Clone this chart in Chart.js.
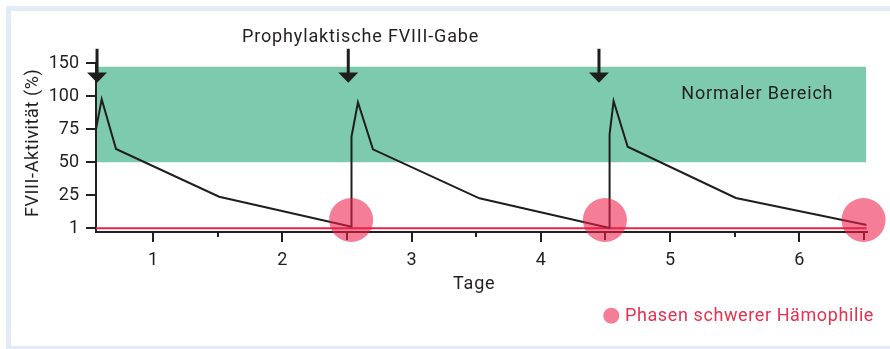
<!DOCTYPE html>
<html>
<head>
<meta charset="utf-8">
<script src="https://cdn.jsdelivr.net/npm/chart.js@4.4.1/dist/chart.umd.min.js"></script>
<style>
  html, body { margin: 0; padding: 0; background: #ffffff; overflow: hidden; }
  #wrap { position: relative; width: 890px; height: 349px; overflow: hidden; }
  #frame { position: absolute; left: 6px; top: 6px; width: 920px; height: 345px; box-sizing: border-box; border: 5px solid #e3ebf7; }
  #c { position: absolute; left: 0; top: 0; }
</style>
</head>
<body>
<div id="wrap">
  <div id="frame"></div>
  <canvas id="c" width="890" height="349"></canvas>
</div>
<script>
// ---- data (days on x, FVIII activity on y) ----
const xTickDays = [1, 2, 3, 4, 5, 6];
const xTickLabels = ['1', '2', '3', '4', '5', '6'];
const xMinorDays = [1.5, 2.5, 3.5, 4.5, 5.5, 6.5];
const xMinorIsDose = [false, true, false, true, false, true];
const yTickValues = [0, 25, 50, 75, 100, 125];
const yTickLabels = ['1', '25', '50', '75', '100', '150'];

const activityDays = [0.558, 0.602, 0.713, 1.511, 2.535, 2.535, 2.585, 2.701, 3.525, 4.532, 4.532, 4.563, 4.672, 5.509, 6.522];
const activityValues = [75, 97.7, 60.1, 23.9, 1.2, 69.4, 95.5, 59.8, 22.7, 0.2, 71.2, 96.4, 61.8, 23.0, 2.5];

const severeDays = [2.532, 4.496, 6.497];
const severeValues = [6.3, 6.3, 6.3];

const doseArrowDays = [0.566, 2.51, 4.45];

const normalRangeDays = [0.566, 6.52];
const normalRangeLow = 50;
const normalRangeHigh = 122.4;

const thresholdDays = [0.558, 6.52];
const thresholdValue = 0;

const X_MIN = 0.558, X_MAX = 6.52, Y_MIN = -2.8, Y_MAX = 125;

const FONT = 'Roboto, "Liberation Sans", sans-serif';
const TEXT = '#231f20';

function spaced(ctx, text, x, y, spacing) {
  if ('letterSpacing' in ctx) {
    ctx.letterSpacing = spacing + 'px';
    ctx.fillText(text, x, y);
    ctx.letterSpacing = '0px';
  } else {
    ctx.fillText(text, x, y);
  }
}

const overlay = {
  id: 'overlay',
  beforeDatasetsDraw(chart) {
    const ctx = chart.ctx, xs = chart.scales.x;
    const base = chart.chartArea.bottom;
    ctx.save();
    ctx.strokeStyle = '#231f20';
    ctx.lineWidth = 2;
    xMinorDays.forEach((d, i) => {
      const px = Math.round(xs.getPixelForValue(d));
      ctx.beginPath();
      ctx.moveTo(px, base);
      ctx.lineTo(px, base + (xMinorIsDose[i] ? 8 : 5));
      ctx.stroke();
    });
    ctx.restore();
  },
  afterDatasetsDraw(chart) {
    const ctx = chart.ctx, xs = chart.scales.x, ys = chart.scales.y;
    ctx.save();
    // dose arrows
    ctx.fillStyle = '#1e1e1e';
    ctx.strokeStyle = '#1e1e1e';
    doseArrowDays.forEach(d => {
      const px = xs.getPixelForValue(d);
      const top = ys.getPixelForValue(136);
      const headTop = ys.getPixelForValue(118);
      const tip = ys.getPixelForValue(110.3);
      ctx.lineWidth = 3;
      ctx.beginPath();
      ctx.moveTo(px, top);
      ctx.lineTo(px, headTop + 1);
      ctx.stroke();
      ctx.beginPath();
      ctx.moveTo(px - 10, headTop);
      ctx.lineTo(px + 10, headTop);
      ctx.lineTo(px, tip);
      ctx.closePath();
      ctx.fill();
    });
    // texts
    ctx.fillStyle = TEXT;
    ctx.font = '18px ' + FONT;
    ctx.textBaseline = 'middle';
    ctx.textAlign = 'left';
    spaced(ctx, 'Prophylaktische FVIII-Gabe', 242, 37, 0.85);
    spaced(ctx, 'Normaler Bereich', xs.getPixelForValue(5.087), ys.getPixelForValue(101.7), 0.8);
    spaced(ctx, 'Tage', 453, 284, 0.8);
    ctx.save();
    ctx.translate(33, 217);
    ctx.rotate(-Math.PI / 2);
    spaced(ctx, 'FVIII-Aktivität (%)', 0, 0, 0.6);
    ctx.restore();
    // legend
    ctx.fillStyle = 'rgba(237,31,72,0.58)';
    ctx.beginPath();
    ctx.arc(611.3, 315.7, 8, 0, Math.PI * 2);
    ctx.fill();
    ctx.fillStyle = '#e8304f';
    spaced(ctx, 'Phasen schwerer Hämophilie', 625, 316, 0.6);
    ctx.restore();
  }
};

new Chart(document.getElementById('c'), {
  type: 'line',
  data: {
    datasets: [
      {
        label: 'Schwere Hämophilie',
        type: 'scatter',
        data: severeDays.map((d, i) => ({ x: d, y: severeValues[i] })),
        pointRadius: 22,
        pointBackgroundColor: 'rgba(237,31,72,0.58)',
        pointBorderWidth: 0,
        showLine: false,
        clip: false,
        order: 0
      },
      {
        label: 'FVIII-Aktivität',
        data: activityDays.map((d, i) => ({ x: d, y: activityValues[i] })),
        borderColor: '#1e1e1e',
        borderWidth: 2,
        pointRadius: 0,
        tension: 0,
        fill: false,
        order: 1
      },
      {
        label: '1 %',
        data: thresholdDays.map(d => ({ x: d, y: thresholdValue })),
        borderColor: '#e8234a',
        borderWidth: 2,
        pointRadius: 0,
        fill: false,
        clip: false,
        order: 2
      },
      {
        label: 'Normaler Bereich',
        data: normalRangeDays.map(d => ({ x: d, y: normalRangeHigh })),
        borderWidth: 0,
        borderColor: 'rgba(0,0,0,0)',
        backgroundColor: '#7ecaae',
        pointRadius: 0,
        fill: { value: normalRangeLow },
        order: 3
      }
    ]
  },
  options: {
    responsive: false,
    animation: false,
    events: [],
    devicePixelRatio: 1,
    layout: { padding: { top: 63.3, right: 23.5, left: 0, bottom: 0 } },
    plugins: { legend: { display: false }, tooltip: { enabled: false }, title: { display: false } },
    scales: {
      x: {
        type: 'linear',
        min: X_MIN, max: X_MAX,
        afterBuildTicks: s => { s.ticks = xTickDays.map(v => ({ value: v })); },
        afterFit: s => { s.height = 117; },
        ticks: {
          autoSkip: false, maxRotation: 0, padding: 8,
          color: TEXT, font: { family: FONT, size: 18 },
          callback: (v, i) => xTickLabels[i]
        },
        grid: { drawOnChartArea: false, drawTicks: true, tickLength: 10, color: '#231f20', lineWidth: 2 },
        border: { display: true, color: '#231f20', width: 2 }
      },
      y: {
        type: 'linear',
        min: Y_MIN, max: Y_MAX,
        afterBuildTicks: s => { s.ticks = yTickValues.map(v => ({ value: v })); },
        afterFit: s => { s.width = 96; },
        ticks: {
          autoSkip: false, padding: 7,
          color: TEXT, font: { family: FONT, size: 18 },
          callback: (v, i) => yTickLabels[i]
        },
        grid: { drawOnChartArea: false, drawTicks: true, tickLength: 10, color: '#231f20', lineWidth: 2 },
        border: { display: true, color: '#231f20', width: 2 }
      }
    }
  },
  plugins: [overlay]
});
</script>
</body>
</html>
